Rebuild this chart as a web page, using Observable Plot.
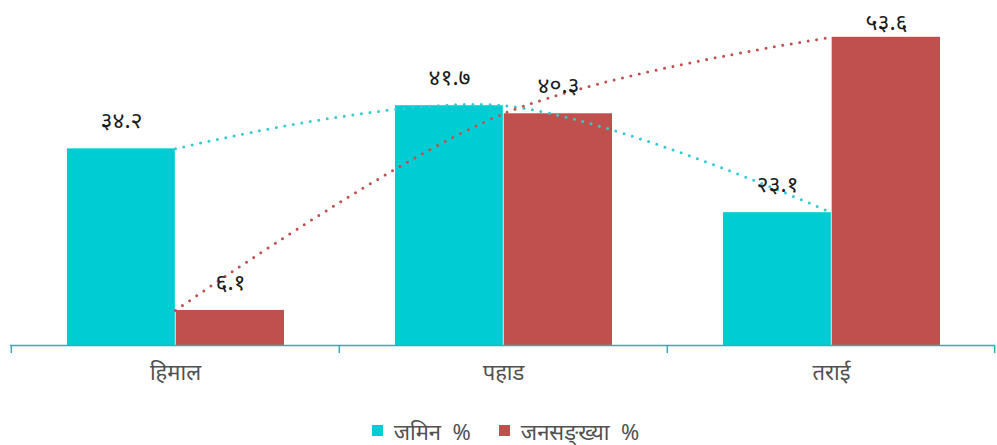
<!DOCTYPE html>
<html>
<head>
<meta charset="utf-8">
<script src="https://cdn.jsdelivr.net/npm/d3@7"></script>
<script src="https://cdn.jsdelivr.net/npm/@observablehq/plot@0.6"></script>
<style>
  html, body { margin: 0; padding: 0; background: #fff; }
  body { width: 997px; height: 445px; overflow: hidden; font-family: "Noto Sans", sans-serif; }
  #legend { display: flex; justify-content: center; margin-top: 9px; margin-left: 42px; }
  #legend div, #legend span { font-size: 22px !important; color: #505050 !important; font-family: "Noto Sans", sans-serif !important; white-space: pre; }
  #legend span { margin-right: 28px !important; }
</style>
</head>
<body>
<div id="chart"></div>
<div id="legend"></div>
<script>
const categories = ["हिमाल", "पहाड", "तराई"];
const seriesNames = ["जमिन  %", "जनसङ्ख्या  %"];
const landValues = [34.2, 41.7, 23.1];
const populationValues = [6.1, 40.3, 53.6];
const barColors = ["#00CCD4", "#C0504D"];
const lineColors = ["#38C8CE", "#C0504D"];
const axisColor = "#2FAFB2";

const W = 997, H = 405, mL = 10, mR = 2, mB = 60, mT = 0;
const half = (W - mL - mR) / categories.length / 2;
const pxPerUnit = (H - mB - mT) / 60;

const devDigits = "०१२३४५६७८९";
const toDev = v => String(v).replace(/\d/g, d => devDigits[+d]);

const landRows = categories.map((c, i) => ({category: c, series: seriesNames[0], value: landValues[i]}));
const popRows = categories.map((c, i) => ({category: c, series: seriesNames[1], value: populationValues[i]}));

const dotted = {curve: "catmull-rom", strokeWidth: 3, strokeDasharray: "0 8.6", strokeLinecap: "round"};
const labelStyle = {fontSize: 23, fill: "#1a1a1a", lineAnchor: "middle", dy: -28};

const chart = Plot.plot({
  width: W, height: H,
  marginLeft: mL, marginRight: mR, marginTop: mT, marginBottom: mB,
  style: {fontFamily: "'Noto Sans', sans-serif", background: "#fff"},
  x: {type: "band", domain: categories, paddingInner: 0, paddingOuter: 0, axis: null},
  y: {domain: [0, 60], axis: null},
  marks: [
    Plot.barY(landRows, {x: "category", y: "value", fill: barColors[0], insetLeft: 56, insetRight: half}),
    Plot.barY(popRows, {x: "category", y: "value", fill: barColors[1], insetLeft: half + 0.5, insetRight: 55}),
    Plot.ruleY([0], {stroke: axisColor, strokeWidth: 1.5}),
    Plot.ruleX(categories, {x: d => d, y1: 0, y2: -8 / pxPerUnit, dx: -half, stroke: axisColor, strokeWidth: 1.5}),
    Plot.ruleX(categories.slice(-1), {x: d => d, y1: 0, y2: -8 / pxPerUnit, dx: half - 1, stroke: axisColor, strokeWidth: 1.5}),
    Plot.line(landRows, {x: "category", y: "value", stroke: lineColors[0], ...dotted}),
    Plot.line(popRows, {x: "category", y: "value", stroke: lineColors[1], ...dotted}),
    Plot.text(landRows, {x: "category", y: d => Math.min(d.value, 51.2), text: d => toDev(d.value), dx: -54, ...labelStyle}),
    Plot.text(popRows, {x: "category", y: d => Math.min(d.value, 51.2), text: d => toDev(d.value), dx: 55, ...labelStyle}),
    Plot.axisX({tickSize: 0, tickPadding: 19, fontSize: 22, color: "#505050", label: null})
  ]
});
document.getElementById("chart").appendChild(chart);

const legend = Plot.legend({
  color: {type: "ordinal", domain: seriesNames, range: barColors},
  legend: "swatches",
  swatchSize: 11,
  style: {fontSize: "22px", color: "#505050", fontFamily: "'Noto Sans', sans-serif"}
});
legend.style.justifyContent = "center";
document.getElementById("legend").appendChild(legend);
</script>
</body>
</html>
